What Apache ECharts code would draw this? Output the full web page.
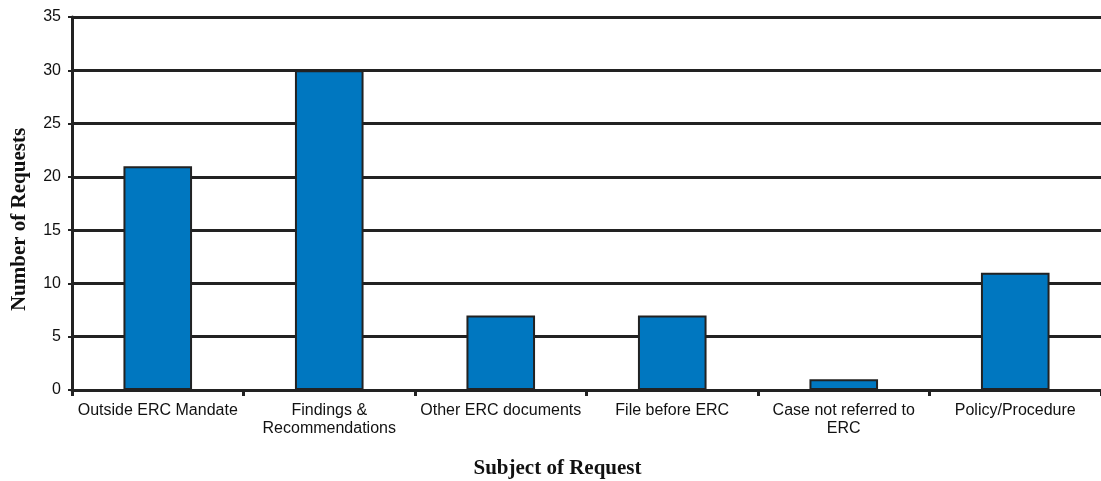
<!DOCTYPE html>
<html>
<head>
<meta charset="utf-8">
<script src="https://cdn.jsdelivr.net/npm/echarts@6/dist/echarts.min.js"></script>
<style>
  html, body { margin: 0; padding: 0; background: #fff; }
  #chart { width: 1101px; height: 481px; }
</style>
</head>
<body>
<div id="chart"></div>
<script>
// subjects of request and their counts
const categories = [
  'Outside ERC Mandate', 'Findings &\nRecommendations', 'Other ERC documents',
  'File before ERC', 'Case not referred to\nERC', 'Policy/Procedure',
];
const requests = [21, 30, 7, 7, 1, 11];
const yTicks = { min: 0, max: 35, interval: 5 };

const chart = echarts.init(document.getElementById('chart'));
chart.setOption({
  animation: false,
  backgroundColor: '#fff',
  grid: { left: 72, right: 0, top: 17, bottom: 91, outerBoundsMode: 'none' },
  xAxis: {
    type: 'category',
    data: categories,
    name: 'Subject of Request',
    nameLocation: 'middle',
    nameGap: 68,
    nameTextStyle: { fontFamily: 'Liberation Serif', fontWeight: 'bold', fontSize: 21, color: '#111', padding: [0, 58, 0, 0] },
    axisLine: { lineStyle: { color: '#222', width: 3 } },
    axisTick: { show: true, length: 6, lineStyle: { color: '#222', width: 3 } },
    axisLabel: { fontFamily: 'Liberation Sans', fontSize: 16, color: '#111', margin: 12, lineHeight: 18, interval: 0 },
  },
  yAxis: {
    type: 'value',
    ...yTicks,
    name: 'Number of Requests',
    nameLocation: 'middle',
    nameGap: 42,
    nameTextStyle: { fontFamily: 'Liberation Serif', fontWeight: 'bold', fontSize: 21, color: '#111', padding: [0, 32, 0, 0] },
    axisLine: { show: true, lineStyle: { color: '#222', width: 3 } },
    axisTick: { show: true, length: 4, lineStyle: { color: '#222', width: 2 } },
    axisLabel: { fontFamily: 'Liberation Sans', fontSize: 16, color: '#111', margin: 11 },
    splitLine: { lineStyle: { color: '#222', width: 3 } },
  },
  series: [{
    type: 'bar',
    data: requests,
    barWidth: '40%',
    itemStyle: { color: '#0077c0', borderColor: '#222', borderWidth: 2 },
  }],
});
</script>
</body>
</html>
